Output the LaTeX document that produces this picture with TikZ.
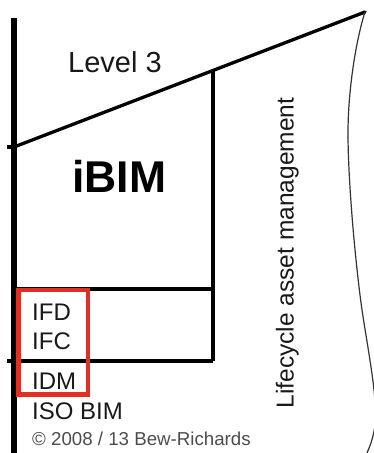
\documentclass[tikz,border=0pt]{standalone}
\usepackage{fontspec}
\setmainfont{Liberation Sans}
\definecolor{hired}{RGB}{224,48,36}
\begin{document}
\begin{tikzpicture}[x=1pt,y=-1pt,
  frame/.style={line width=3.3pt,black},
  spine/.style={line width=5.5pt,black},
  wave/.style={line width=1.2pt,black!80},
  redbox/.style={draw=hired,line width=4.8pt},
  lbl/.style={inner sep=0pt,anchor=base west,text=black!90}]
\useasboundingbox (0,0) rectangle (374,453);
% coordinates
\coordinate (top) at (14,18);
\coordinate (bot) at (14,453);
\coordinate (dstart) at (14,147);
\coordinate (dend) at (365,12);
\coordinate (vtop) at (213,70.5);
\coordinate (vbot) at (213,361);
\coordinate (m1l) at (14,289);
\coordinate (m1r) at (213,289);
\coordinate (m2l) at (7,361);
\coordinate (t1l) at (7,147);
% spine
\draw[spine] (top) -- (bot);
\draw[frame] (t1l) -- (dstart);
\draw[frame,line cap=round] (dstart) -- (dend);
\draw[frame] (vtop) -- (vbot);
\draw[frame] (m1l) -- (m1r);
\draw[frame] (m2l) -- (vbot);
% wavy right boundary
\draw[wave] (dend) .. controls (356,40) and (348,90) .. (348,133)
  .. controls (348,180) and (355,260) .. (362,310)
  .. controls (368,350) and (378,400) .. (375,425)
  .. controls (373,440) and (369,448) .. (367,453);
% texts
\node[lbl,font=\fontsize{29}{34}\selectfont] (level) at (68,72) {Level 3};
\node[lbl,font=\fontsize{44.5}{50}\selectfont\bfseries,text=black] (ibim) at (72,192.5) {iBIM};
\node[lbl,font=\fontsize{24}{28}\selectfont] (ifd) at (32,320) {IFD};
\node[lbl,font=\fontsize{24}{28}\selectfont] (ifc) at (32,349) {IFC};
\node[lbl,font=\fontsize{24}{28}\selectfont] (idm) at (32,389) {IDM};
\node[lbl,font=\fontsize{24}{28}\selectfont] (iso) at (32,419) {ISO BIM};
\node[lbl,font=\fontsize{18.7}{22}\selectfont,text=black!70] (copy) at (32,445) {© 2008 / 13 Bew-Richards};
\node[inner sep=0pt,anchor=base,rotate=90,font=\fontsize{24.5}{28}\selectfont,text=black!90] (life) at (293.5,253) {Lifecycle asset management};
% red highlight
\draw[redbox] (18.5,290) rectangle (88,394.5);
\end{tikzpicture}
\end{document}
